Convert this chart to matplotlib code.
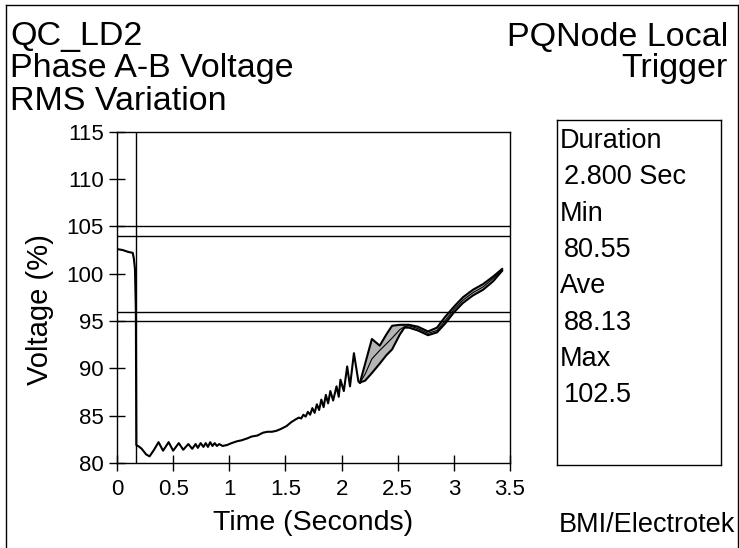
import numpy as np
from matplotlib import pyplot as plt
from matplotlib.lines import Line2D

plt.rcParams.update({
    "font.family": ["Liberation Sans", "DejaVu Sans"],
    "axes.linewidth": 1.0,
    "xtick.direction": "inout",
    "ytick.direction": "inout",
    "xtick.major.size": 11,
    "ytick.major.size": 11,
    "xtick.major.width": 1.0,
    "ytick.major.width": 1.0,
    "xtick.labelsize": 16,
    "ytick.labelsize": 16,
})

# single-trace part of the RMS record (time s, voltage %)
t_trace = [0.00, 0.05, 0.10, 0.14, 0.15, 0.16, 0.168, 0.172, 0.20, 0.22, 0.26, 0.29,
           0.33, 0.37, 0.41, 0.46, 0.50, 0.55, 0.59, 0.635, 0.67, 0.70, 0.72, 0.745,
           0.77, 0.79, 0.81, 0.83, 0.85, 0.87, 0.89, 0.91, 0.94, 0.98, 1.02, 1.07,
           1.11, 1.16, 1.20, 1.25, 1.30, 1.34, 1.38, 1.42, 1.46, 1.51, 1.55, 1.59,
           1.62, 1.64, 1.66, 1.68, 1.70, 1.72, 1.74, 1.76, 1.78, 1.80, 1.82, 1.84,
           1.86, 1.88, 1.90, 1.925, 1.955, 1.975, 1.99, 2.02, 2.05, 2.075, 2.11,
           2.15, 2.164]
v_trace = [102.6, 102.5, 102.3, 102.2, 101.6, 100.5, 96.0, 81.9, 81.7, 81.5, 80.9, 80.7,
           81.4, 82.2, 81.3, 82.2, 81.3, 82.1, 81.4, 82.0, 81.5, 82.0, 81.6, 82.1,
           81.7, 82.1, 81.7, 82.2, 81.8, 82.1, 81.8, 82.0, 81.8, 81.9, 82.1, 82.3,
           82.4, 82.6, 82.8, 82.9, 83.2, 83.3, 83.3, 83.4, 83.6, 83.9, 84.3, 84.6,
           84.8, 84.7, 85.1, 84.9, 85.4, 85.1, 85.8, 85.3, 86.2, 85.6, 86.7, 85.9,
           87.2, 86.3, 87.6, 86.6, 88.1, 87.0, 88.8, 87.6, 90.2, 88.1, 91.6,
           88.6, 88.5]

# min / ave / max envelope part
t_band = [2.164, 2.21, 2.27, 2.34, 2.40, 2.45, 2.52, 2.56, 2.60, 2.68, 2.77, 2.85,
          2.92, 3.00, 3.08, 3.17, 3.26, 3.35, 3.43]
v_max = [88.5, 90.5, 93.1, 92.4, 93.6, 94.5, 94.6, 94.6, 94.6, 94.4, 93.9, 94.3,
         95.4, 96.5, 97.5, 98.3, 98.9, 99.7, 100.5]
v_ave = [88.5, 89.4, 91.0, 91.9, 92.6, 93.2, 94.1, 94.4, 94.5, 94.2, 93.7, 94.0,
         95.0, 96.2, 97.2, 98.0, 98.6, 99.5, 100.4]
v_min = [88.5, 88.7, 89.5, 90.5, 91.4, 92.0, 93.6, 94.3, 94.3, 94.0, 93.5, 93.8,
         94.7, 95.9, 96.9, 97.7, 98.3, 99.2, 100.3]

limit_lines = [105, 104, 96, 95]
trigger_time = 0.17

stats = [("Duration", "2.800 Sec"), ("Min", "80.55"), ("Ave", "88.13"), ("Max", "102.5")]

W, H = 739, 548
fig = plt.figure(figsize=(W / 100, H / 100), dpi=100)

ax = fig.add_axes([117 / W, 1 - 463 / H, (510 - 117) / W, (463 - 131.7) / H])
ax.set_xlim(0, 3.5)
ax.set_ylim(80, 115)
ax.set_xticks(np.arange(0, 3.51, 0.5))
ax.set_yticks(np.arange(80, 116, 5))
ax.set_xticklabels([f"{v:g}" for v in np.arange(0, 3.51, 0.5)])
ax.tick_params(axis="x", pad=6)
ax.tick_params(axis="y", pad=4)

for y in limit_lines:
    ax.axhline(y, color="black", lw=1.0)
ax.axvline(trigger_time, color="black", lw=1.0)

ax.fill_between(t_band, v_min, v_max, facecolor="#b5b5b5", edgecolor="none")
ax.plot(t_trace, v_trace, color="black", lw=1.5)
ax.plot(t_band, v_max, color="black", lw=1.5)
ax.plot(t_band, v_min, color="black", lw=1.5)
ax.plot(t_band, v_ave, color="black", lw=0.8)

# header / labels
fs_title = 24.5
fig.text(10 / W, 1 - 37 / H, "QC_LD2", fontsize=fs_title, va="center")
fig.text(10 / W, 1 - 69 / H, "Phase A-B Voltage", fontsize=fs_title, va="center")
fig.text(10 / W, 1 - 101 / H, "RMS Variation", fontsize=fs_title, va="center")
fig.text(728 / W, 1 - 37 / H, "PQNode Local", fontsize=fs_title, va="center", ha="right")
fig.text(728 / W, 1 - 69 / H, "Trigger", fontsize=fs_title, va="center", ha="right")

fig.text(40 / W, 1 - 310 / H, "Voltage (%)", fontsize=21, rotation=90,
         ha="center", va="center")
fig.text(313 / W, 1 - 523 / H, "Time (Seconds)", fontsize=20.5, ha="center", va="center")
fig.text(735 / W, 1 - 525 / H, "BMI/Electrotek", fontsize=19.5, ha="right", va="center")

# statistics box
bx = fig.add_axes([557 / W, 1 - 465 / H, (721 - 557) / W, (465 - 120) / H])
bx.set_xticks([])
bx.set_yticks([])
for s in bx.spines.values():
    s.set_linewidth(1.0)
row = 0
for name, val in stats:
    y0 = 141 + row * 36.3
    bx.text(3 / 164, 1 - (y0 - 120) / 345, name, fontsize=19.5, va="center",
            transform=bx.transAxes)
    bx.text(7 / 164, 1 - (y0 + 36.3 - 120) / 345, val, fontsize=19.5, va="center",
            transform=bx.transAxes)
    row += 2

# page frame
fig.add_artist(Line2D([6 / W, 6 / W], [0, 1 - 5 / H], color="black", lw=1.0))
fig.add_artist(Line2D([6 / W, 738 / W], [1 - 5 / H, 1 - 5 / H], color="black", lw=1.0))
fig.add_artist(Line2D([738 / W, 738 / W], [0, 1 - 5 / H], color="black", lw=1.0))

fig.savefig("out.png", dpi=100)
